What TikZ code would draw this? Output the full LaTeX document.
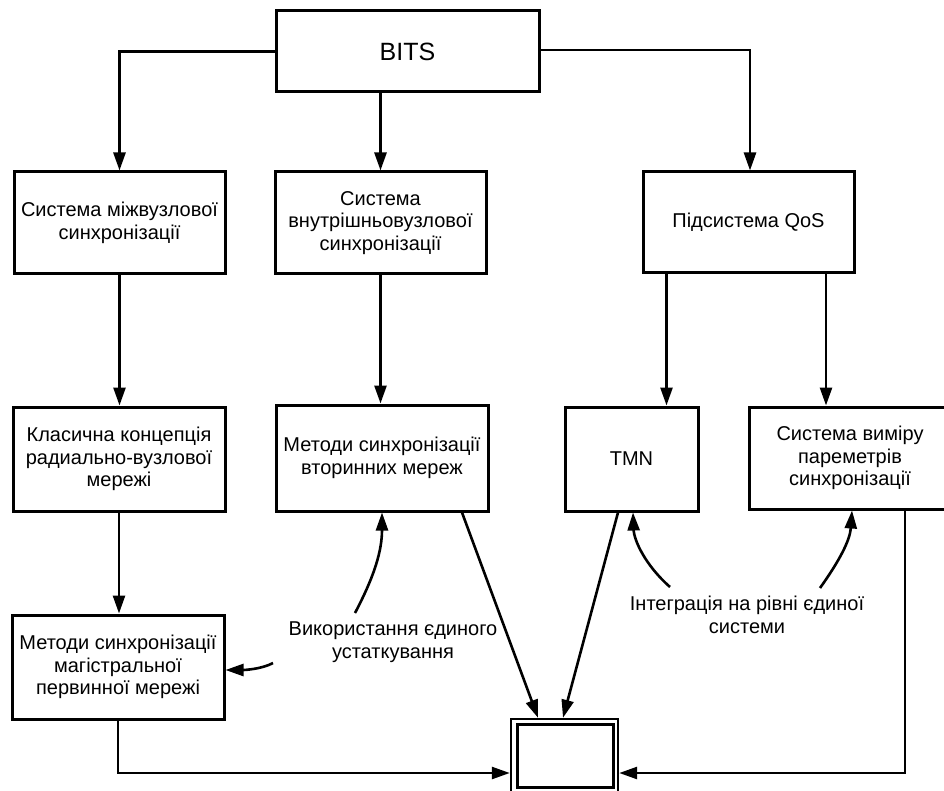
\documentclass[tikz,border=0pt]{standalone}
\usepackage{fontspec}
\setmainfont{Liberation Sans}
\usetikzlibrary{arrows.meta}

\tikzset{
  blk/.style={draw, line width=3pt, inner sep=0pt, align=center,
    font=\fontsize{20}{22.5}\selectfont},
  arr/.style={line width=2.6pt, -{Triangle[length=18pt,width=12pt]}},
  note/.style={inner sep=0pt, align=center, font=\fontsize{20}{22.5}\selectfont},
}

\begin{document}
\begin{tikzpicture}[x=1pt, y=-1pt]
\useasboundingbox (0,0) rectangle (944,791);

% top-level block
\node[blk, minimum width=263pt, minimum height=81pt,
      font=\fontsize{25}{28}\selectfont] (bits) at (407.5,51.5) {BITS};

% first row
\node[blk, minimum width=211pt, minimum height=102pt] (A) at (119.5,223)
  {Система міжвузлової\\синхронізації};
\node[blk, minimum width=211pt, minimum height=102pt] (B) at (380.5,223)
  {Система\\внутрішньовузлової\\синхронізації};
\node[blk, minimum width=211pt, minimum height=101pt] (C) at (748.5,222.5)
  {Підсистема QoS};

% second row
\node[blk, minimum width=212pt, minimum height=104pt] (D) at (119,459)
  {Класична концепція\\радиально-вузлової\\мережі};
\node[blk, minimum width=212pt, minimum height=106pt] (E) at (382,458)
  {Методи синхронізації\\вторинних мереж};
\node[blk, minimum width=133pt, minimum height=104pt] (F) at (631.5,459)
  {TMN};
\node[blk, minimum width=202pt, minimum height=102pt] (G) at (850,458)
  {Система виміру\\пареметрів\\синхронізації};

% third row
\node[blk, minimum width=212pt, minimum height=104pt] (H) at (118,667)
  {Методи синхронізації\\магістральної\\первинної мережі};

% collecting block (double frame)
\node[draw, line width=2.4pt, inner sep=0pt, minimum width=107pt,
      minimum height=81pt] (out) at (564.5,759.5) {};
\node[draw, line width=3pt, inner sep=0pt, minimum width=96pt,
      minimum height=63pt] (outin) at (565,755.5) {};

% annotations
\node[note] (t1) at (393,642) {Використання єдиного\\устаткування};
\node[note] (t2) at (747,615) {Інтеграція на рівні єдиної\\системи};

\coordinate (u1) at (355,613);
\coordinate (u2) at (273,663);
\coordinate (v1) at (670,587);
\coordinate (v2) at (820,588);

% tree connectors
\draw[arr] (bits.west) -| (A.north);
\draw[arr] (bits.south -| B.north) -- (B.north);
\draw[arr] ([yshift=1.5pt]bits.east) -| ([xshift=1.5pt]C.north);
\draw[arr] (A.south) -- (A.south |- D.north);
\draw[arr] (B.south) -- (B.south |- E.north);
\draw[arr] ([xshift=-82pt]C.south) -- ([xshift=-82pt]C.south |- F.north);
\draw[arr] ([xshift=77.5pt]C.south) -- ([xshift=77.5pt]C.south |- G.north);
\draw[arr] (D.south) -- (D.south |- H.north);

% into the collecting block
\draw[arr] ([xshift=80pt]E.south) -- ([xshift=-26.5pt]out.north);
\draw[arr] ([xshift=-13.5pt]F.south) -- ([xshift=-1.5pt]out.north);
\draw[arr] (H.south) |- ([yshift=-13.5pt]out.west);
\draw[arr] ([xshift=55pt]G.south) |- ([yshift=-13.5pt]out.east);

% curved pointers from the annotations
\draw[arr] (u1) .. controls (375,575) and (382,550) .. (E.south);
\draw[arr] (u2) .. controls (262,669) and (245,670) .. ([yshift=-3pt]H.east);
\draw[arr] (v1) .. controls (645,565) and (634,540) .. ([xshift=1.5pt]F.south);
\draw[arr] (v2) .. controls (840,560) and (850,540) .. ([xshift=2pt]G.south);
\end{tikzpicture}
\end{document}
